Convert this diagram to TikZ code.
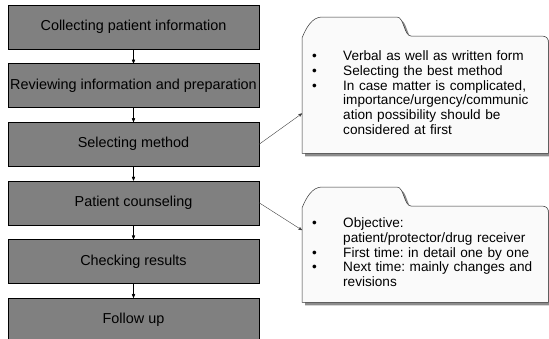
\documentclass[tikz,border=0pt]{standalone}
\usepackage{fontspec}
\setmainfont{Liberation Sans}
\usetikzlibrary{calc}
\usetikzlibrary{arrows}
\usetikzlibrary{shadows,backgrounds}
\frenchspacing

\begin{document}
\begin{tikzpicture}[x=1pt, y=-1pt,
  stepbox/.style={draw=black, fill=gray, minimum width=251pt, minimum height=44pt, inner sep=0pt, font=\fontsize{14.4}{16}\selectfont},
  notebox/.style={anchor=north west, inner xsep=10pt, inner ysep=0pt, text width=226pt, align=left, font=\fontsize{13.6}{14.7}\selectfont},
  notelink/.style={black!75, line width=.4pt, ->, >=stealth'}]
\useasboundingbox (0,0) rectangle (549,338);
\foreach \name/\txt [count=\i] in {collect/Collecting patient information,
  review/Reviewing information and preparation, method/Selecting method,
  counsel/Patient counseling, check/Checking results, follow/Follow up}
 \node[stepbox] (\name) at (133.5,{27+58.6*(\i-1)}) {\txt};
\foreach \a/\b in {collect/review, review/method, method/counsel, counsel/check, check/follow}
 \draw[black, line width=.5pt, ->, >=stealth'] (\a) -- (\b);
% notes
\node[notebox, minimum height=117pt] (note1) at (302,36) {%
 \begin{tabular}{@{}p{31pt}@{}l@{}}
 \textbullet & Verbal as well as written form\\
 \textbullet & Selecting the best method\\
 \textbullet & In case matter is complicated,\\
  & importance/urgency/communic\\
  & ation possibility should be\\
  & considered at first
 \end{tabular}};
\node[notebox, minimum height=96pt] (note2) at (302,206) {%
 \begin{tabular}{@{}p{31pt}@{}l@{}}
 \textbullet & Objective:\\
  & patient/protector/drug receiver\\
 \textbullet & First time: in detail one by one\\
 \textbullet & Next time: mainly changes and\\
  & revisions
 \end{tabular}};
\begin{scope}[on background layer]
\foreach \n in {note1,note2}
 \draw[black!80, line width=.5pt, fill=white!98!black,
   drop shadow={shadow xshift=3pt, shadow yshift=-3pt, fill=gray!90, opacity=1}]
  (\n.south west) -- ($(\n.north west)+(0,2)$)
  .. controls ($(\n.north west)+(4,-8)$) and ($(\n.north west)+(10,-19)$) .. ($(\n.north west)+(20,-19)$)
  -- ($(\n.north west)+(95,-19)$)
  .. controls ($(\n.north west)+(102,-19)$) and ($(\n.north west)+(102,0)$) .. ($(\n.north west)+(109,0)$)
  -- ($(\n.north east)+(-7,0)$)
  .. controls ($(\n.north east)+(-2,0)$) and ($(\n.north east)+(0,2)$) .. ($(\n.north east)+(0,7)$)
  -- (\n.south east) -- cycle;
\end{scope}
\draw[notelink] (method.east) -- ($(note1.south west)!.34!(note1.north west)$);
\draw[notelink] (counsel.east) -- ($(note2.south west)!.75!(note2.north west)$);
\end{tikzpicture}
\end{document}
